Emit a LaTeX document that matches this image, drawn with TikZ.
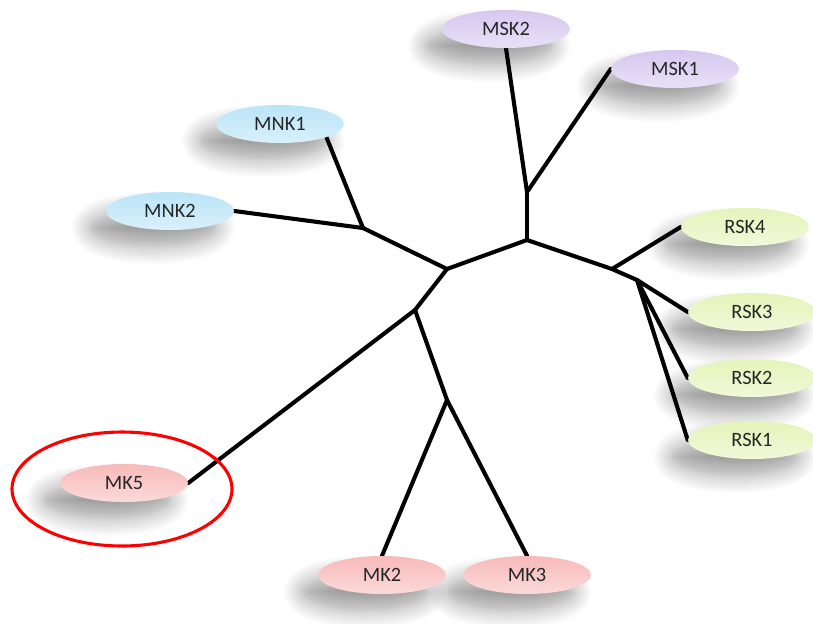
\documentclass[tikz,border=0pt]{standalone}
\usepackage{fontspec}
\setmainfont{Carlito}
\usetikzlibrary{shapes.geometric,shadows.blur}
\pgfdeclarelayer{bg}
\pgfsetlayers{bg,main}
\definecolor{mskcol}{RGB}{214,200,240}
\definecolor{mnkcol}{RGB}{186,228,247}
\definecolor{rskcol}{RGB}{228,244,186}
\definecolor{mkcol}{RGB}{248,186,186}

\begin{document}
\begin{tikzpicture}[
        kinase/.style={ellipse, minimum width=3.2cm, minimum height=0.95cm, inner sep=0pt,
                font=\fontsize{14.5}{16}\selectfont, text=black!85,
                blur shadow={shadow xshift=-0.42cm, shadow yshift=-0.42cm, shadow blur radius=0.45cm,
                        shadow blur steps=12, shadow opacity=38}},
        msk/.style={kinase, top color=mskcol, bottom color=mskcol!55!white},
        mnk/.style={kinase, top color=mnkcol, bottom color=mnkcol!55!white},
        rsk/.style={kinase, top color=rskcol, bottom color=rskcol!55!white},
        mk/.style={kinase, top color=mkcol, bottom color=mkcol!55!white},
        branch/.style={line width=2.9pt, line cap=round}]
        \useasboundingbox (0cm, 0cm) rectangle (20.325cm, -15.575cm);
        \node (v0) [msk] at (12.650000cm, -0.725000cm) {MSK2};
        \node (v1) [msk] at (16.875000cm, -1.725000cm) {MSK1};
        \node (v2) [mnk] at (7.000000cm, -3.100000cm) {MNK1};
        \node (v3) [mnk] at (4.250000cm, -5.275000cm) {MNK2};
        \node (v4) [rsk] at (18.625000cm, -5.675000cm) {RSK4};
        \node (v5) [rsk] at (18.800000cm, -7.800000cm) {RSK3};
        \node (v6) [rsk] at (18.800000cm, -9.450000cm) {RSK2};
        \node (v7) [rsk] at (18.800000cm, -11.000000cm) {RSK1};
        \node (v8) [mk] at (3.100000cm, -12.075000cm) {MK5};
        \node (v10) [mk] at (13.175000cm, -14.375000cm) {MK3};
        \node (v9) [mk] at (9.550000cm, -14.375000cm) {MK2};
        \coordinate (v11) at (11.175000cm, -6.725000cm);
        \coordinate (v12) at (13.175000cm, -6.000000cm);
        \coordinate (v13) at (13.175000cm, -4.800000cm);
        \coordinate (v14) at (9.075000cm, -5.700000cm);
        \coordinate (v15) at (15.300000cm, -6.725000cm);
        \coordinate (v16) at (15.925000cm, -7.000000cm);
        \coordinate (v17) at (10.375000cm, -7.750000cm);
        \coordinate (v18) at (11.175000cm, -10.000000cm);
        \node (v19) [draw=red, line width=2.2pt, ellipse, minimum width=5.5cm, minimum height=2.85cm] at (3.050000cm, -12.225000cm) {};
        \begin{pgfonlayer}{bg}
                \draw (v11) edge [branch] (v12);
                \draw (v12) edge [branch] (v13);
                \draw (v13) edge [branch] (v0.south);
                \draw (v13) edge [branch] (v1.west);
                \draw (v11) edge [branch] (v14);
                \draw (v14) edge [branch] (v2.-16);
                \draw (v14) edge [branch] (v3.east);
                \draw (v12) edge [branch] (v15);
                \draw (v15) edge [branch] (v4.west);
                \draw (v15) edge [branch] (v16);
                \draw (v16) edge [branch] (v5.west);
                \draw (v16) edge [branch] (v6.west);
                \draw (v16) edge [branch] (v7.west);
                \draw (v11) edge [branch] (v17);
                \draw (v17) edge [branch] (v8.east);
                \draw (v17) edge [branch] (v18);
                \draw (v18) edge [branch] (v9.north);
                \draw (v18) edge [branch] (v10.north);
        \end{pgfonlayer}
\end{tikzpicture}
\end{document}
